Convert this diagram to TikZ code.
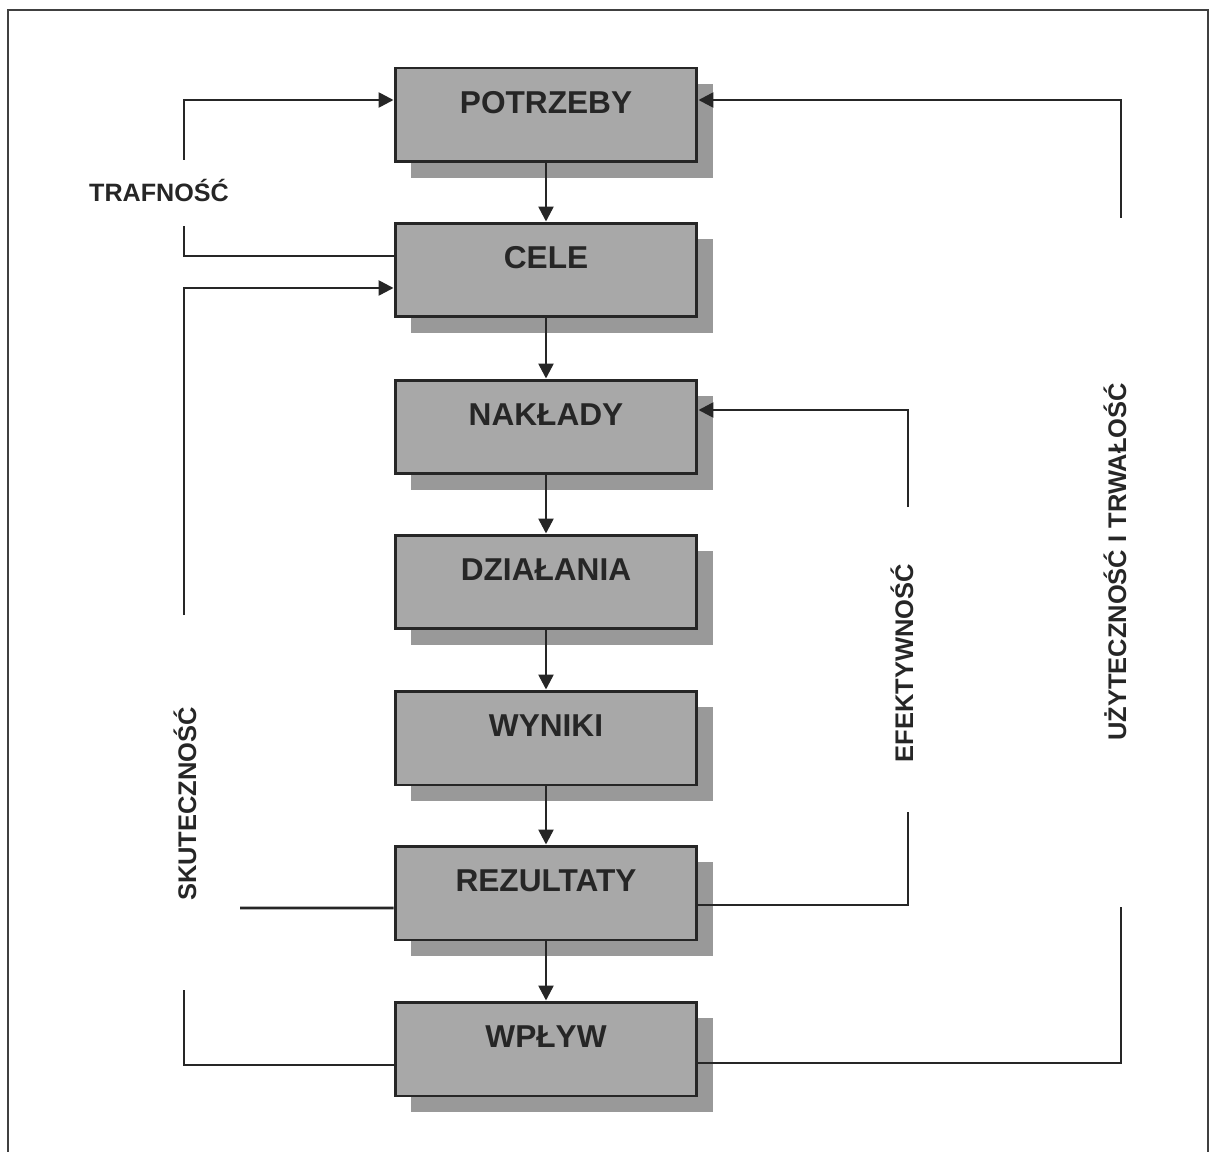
\documentclass[tikz,border=0pt]{standalone}
\usepackage{fontspec}
\setmainfont{Liberation Sans}
\usetikzlibrary{arrows.meta,shadows}

\newcommand{\wgore}[1]{\raisebox{0.24cm}[\height][\depth]{#1}}

\begin{document}
\begin{tikzpicture}[x=0.02cm,y=-0.02cm,>={Triangle[length=3mm,width=3mm]},
  blok/.style={draw=black!85,line width=1.7pt,fill=black!34,minimum width=6.04cm,minimum height=1.88cm,inner sep=0pt,
    font=\fontsize{18}{21}\selectfont\bfseries,text=black!85,
    drop shadow={opacity=1,fill=black!40,shadow xshift=0.32cm,shadow yshift=-0.32cm}},
  lin/.style={draw=black!85,line width=1.45pt},
  napis/.style={font=\fontsize{14.5}{17}\selectfont\bfseries,text=black!85,rotate=90,inner sep=0pt}]
  \useasboundingbox (0,0) rectangle (1211,1152);
  % ramka
  \draw[black!75,line width=1.1pt] (8,1152) -- (8,10) -- (1208,10) -- (1208,1152);
  % bloki
  \node[blok] (potrzeby) at (546,115) {\wgore{POTRZEBY}};
  \node[blok] (cele) at (546,270) {\wgore{CELE}};
  \node[blok] (naklady) at (546,427) {\wgore{NAKŁADY}};
  \node[blok] (dzialania) at (546,582) {\wgore{DZIAŁANIA}};
  \node[blok] (wyniki) at (546,738) {\wgore{WYNIKI}};
  \node[blok] (rezultaty) at (546,893) {\wgore{REZULTATY}};
  \node[blok] (wplyw) at (546,1049) {\wgore{WPŁYW}};
  \foreach \a/\b in {potrzeby/cele,cele/naklady,naklady/dzialania,dzialania/wyniki,wyniki/rezultaty,rezultaty/wplyw}
    \draw[lin,->] (\a) -- (\b);
  % trafnosc
  \coordinate (trA) at (184,226); \coordinate (trB) at (184,160);
  \draw[lin] ([yshift=0.28cm]cele.west) -| (trA);
  \draw[lin,->] (trB) |- ([yshift=0.3cm]potrzeby.west);
  \node[font=\fontsize{14.3}{17}\selectfont\bfseries,text=black!85] (trafnosc) at (159,190) {TRAFNOŚĆ};
  % skutecznosc
  \coordinate (skA) at (184,990); \coordinate (skB) at (184,615); \coordinate (skS) at (240,908);
  \draw[lin] ([yshift=-0.32cm]wplyw.west) -| (skA);
  \draw[lin,->] (skB) |- ([yshift=-0.36cm]cele.west);
  \draw[lin] ([yshift=-0.3cm]rezultaty.west) -- (skS);
  \node[napis] (skutecznosc) at (185,804) {SKUTECZNOŚĆ};
  % efektywnosc
  \coordinate (efA) at (908,812); \coordinate (efB) at (908,507);
  \draw[lin] ([yshift=-0.24cm]rezultaty.east) -| (efA);
  \draw[lin,->] (efB) |- ([yshift=0.34cm]naklady.east);
  \node[napis] (efektywnosc) at (902,663) {EFEKTYWNOŚĆ};
  % uzytecznosc i trwalosc
  \coordinate (utA) at (1121,907); \coordinate (utB) at (1121,218);
  \draw[lin] ([yshift=-0.28cm]wplyw.east) -| (utA);
  \draw[lin,->] (utB) |- ([yshift=0.3cm]potrzeby.east);
  \node[napis] (uzytecznosc) at (1115,562) {UŻYTECZNOŚĆ I TRWAŁOŚĆ};
\end{tikzpicture}
\end{document}
